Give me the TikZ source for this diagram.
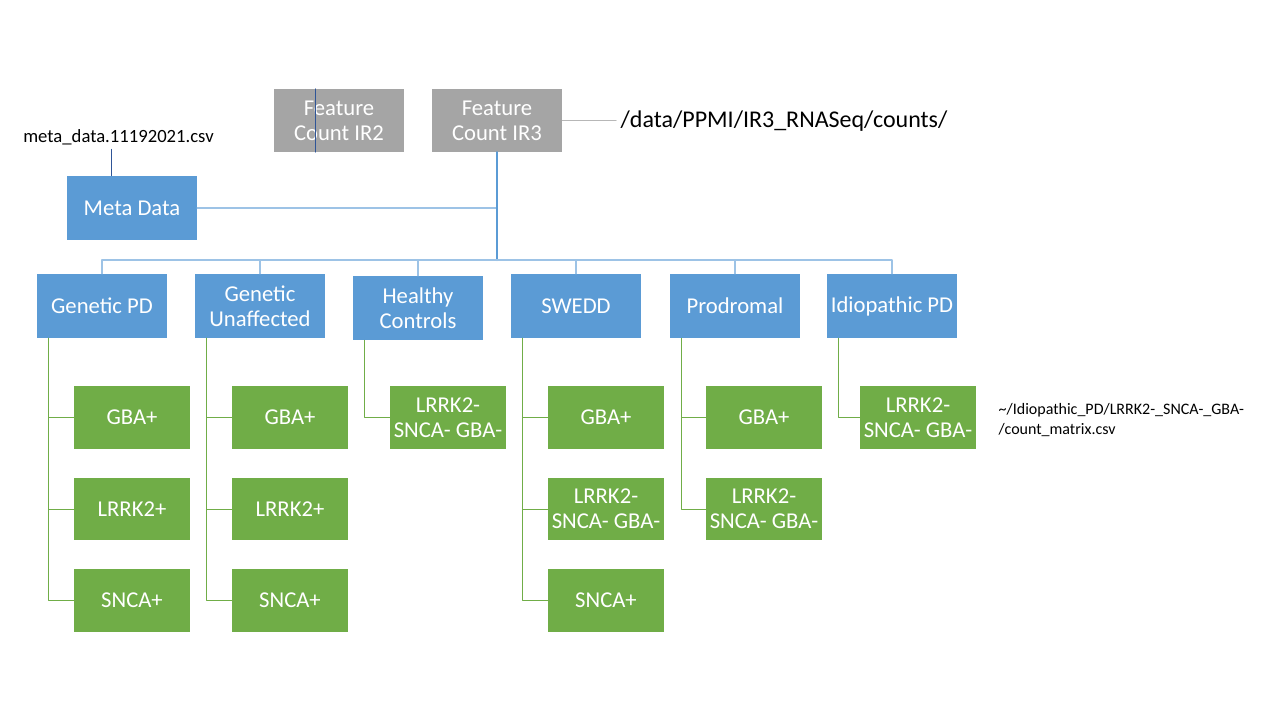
\documentclass[tikz,border=0pt]{standalone}
\usepackage{fontspec}
\setmainfont{Carlito}
\usetikzlibrary{positioning}
\definecolor{boxblue}{HTML}{5B9BD5}
\definecolor{linkblue}{HTML}{9DC3E6}
\definecolor{boxgreen}{HTML}{70AD47}
\definecolor{stubgreen}{HTML}{A9D18E}
\definecolor{boxgray}{HTML}{A5A5A5}
\definecolor{metablue}{HTML}{2F5597}

\begin{document}
\begin{tikzpicture}[line cap=round,line join=round,x=0.75pt,y=-0.75pt,
  groupbox/.style={fill=boxblue,text=white,align=center,minimum width=97.5pt,minimum height=48pt,inner sep=1pt,font=\fontsize{17}{19}\selectfont},
  countbox/.style={groupbox,fill=boxgray,minimum height=47pt},
  leafbox/.style={groupbox,fill=boxgreen,minimum width=87pt,minimum height=47pt},
  busline/.style={draw=linkblue,line width=0.9pt},
  trunkline/.style={draw=boxblue,line width=1.6pt},
  spine/.style={draw=boxgreen,line width=0.75pt},
  metaline/.style={draw=metablue,line width=0.75pt}]
\useasboundingbox (0,0) rectangle (1280,720);
% count files
\node[countbox] (ir2) at (339,120.5) {Feature\\Count IR2};
\node[countbox] (ir3) at (497,120.5) {Feature\\Count IR3};
\node[anchor=west,font=\fontsize{18}{19}\selectfont] (ir3path) at (616,121) {/data/PPMI/IR3\_RNASeq/counts/};
\draw[draw=boxgray!80,line width=0.75pt] (ir3.east) -- (ir3.east -| ir3path.west);
\draw[metaline] ([xshift=31.5pt]ir2.north west) -- ([xshift=31.5pt]ir2.south west);
% meta data
\node[font=\fontsize{14}{15}\selectfont] (metafile) at (118.5,137) {meta\_data.11192021.csv};
\node[groupbox] (meta) at (132,208) {Meta Data};
\draw[metaline] ([xshift=-5.5pt]metafile.south) -- ([xshift=-5.5pt]metafile.south |- meta.north);
\draw[busline] (meta.east) -- (meta.east -| ir3.south);
% cohorts
\node[groupbox] (gpd) at (102,306) {Genetic PD};
\node[groupbox] (gun) at (260,306) {Genetic\\Unaffected};
\node[groupbox] (hc) at (418,308) {Healthy\\Controls};
\node[groupbox] (swedd) at (576,306) {SWEDD};
\node[groupbox] (prod) at (735,306) {Prodromal};
\node[groupbox] (ipd) at (892,306) {Idiopathic PD};
\coordinate (bus) at (497,260);
\draw[trunkline] (ir3.south) -- (bus);
\foreach \grp in {gpd,gun,hc,swedd,prod,ipd}
  \draw[busline] (bus) -| (\grp.north);
% genotypes
\node[leafbox] (gpd1) at (132,417.5) {GBA+};
\node[leafbox] (gpd2) at (132,509) {LRRK2+};
\node[leafbox] (gpd3) at (132,600.5) {SNCA+};
\node[leafbox] (gun1) at (290,417.5) {GBA+};
\node[leafbox] (gun2) at (290,509) {LRRK2+};
\node[leafbox] (gun3) at (290,600.5) {SNCA+};
\node[leafbox] (hc1) at (448,417.5) {LRRK2-\\SNCA- GBA-};
\node[leafbox] (swedd1) at (606,417.5) {GBA+};
\node[leafbox] (swedd2) at (606,509) {LRRK2-\\SNCA- GBA-};
\node[leafbox] (swedd3) at (606,600.5) {SNCA+};
\node[leafbox] (prod1) at (764,417.5) {GBA+};
\node[leafbox] (prod2) at (764,509) {LRRK2-\\SNCA- GBA-};
\node[leafbox] (ipd1) at (918,417.5) {LRRK2-\\SNCA- GBA-};
\foreach \grp/\last in {gpd/3,gun/3,hc/1,swedd/3,prod/2,ipd/1}
  \foreach \i in {1,...,\last}
    \draw[spine] ([xshift=9pt]\grp.south west) |- (\grp\i.west);
\node[anchor=west,align=left,font=\fontsize{12}{15}\selectfont] (ipdpath) at (994,420) {\textasciitilde/Idiopathic\_PD/LRRK2-\_SNCA-\_GBA-\\/count\_matrix.csv};
\end{tikzpicture}
\end{document}
